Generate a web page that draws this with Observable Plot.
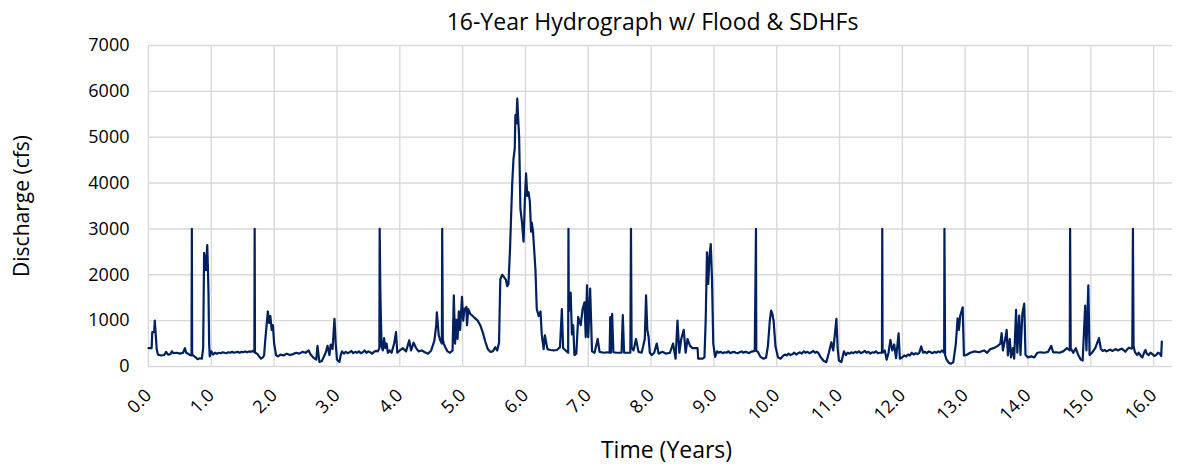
<!DOCTYPE html>
<html><head><meta charset="utf-8">
<script src="https://cdn.jsdelivr.net/npm/d3@7"></script>
<script src="https://cdn.jsdelivr.net/npm/@observablehq/plot@0.6"></script>
<style>html,body{margin:0;padding:0;background:#fff;}</style>
</head><body><div id="chart"></div>
<script>
const chartTitle = "16-Year Hydrograph w/ Flood & SDHFs";
const xTitle = "Time (Years)";
const yTitle = "Discharge (cfs)";
const xTickValues = [0,1,2,3,4,5,6,7,8,9,10,11,12,13,14,15,16];
const yTickValues = [0,1000,2000,3000,4000,5000,6000,7000];

const years = [
0.00,0.05,0.06,0.09,0.10,0.12,0.13,0.15,0.20,0.25,0.28,0.31,0.35,0.37,0.40,0.45,0.50,0.55,0.58,0.60,0.63,0.66,0.685,0.69,0.695,0.70,0.72,0.75,0.78,0.82,0.85,0.87,0.885,0.895,0.905,0.915,0.925,0.935,0.945,0.955,0.965,0.975,
1.00,1.03,1.06,1.09,1.12,1.15,1.18,1.21,1.24,1.27,1.30,1.33,1.36,1.39,1.42,1.45,1.48,1.51,1.54,1.57,1.60,1.63,1.66,
1.685,1.69,1.695,1.70,1.73,1.76,1.79,1.82,1.84,1.86,1.90,1.92,1.94,1.96,1.98,
2.00,2.03,2.06,2.10,2.15,2.20,2.25,2.30,2.35,2.40,2.45,2.50,2.55,2.58,2.62,2.67,2.69,2.72,2.76,2.82,2.85,2.88,2.90,2.93,2.96,2.98,
3.00,3.02,3.04,3.06,
3.08,3.11,3.14,3.17,3.20,3.23,3.26,3.29,3.32,3.35,3.38,3.41,3.44,3.47,3.50,3.53,3.56,3.59,3.62,3.65,
3.675,3.68,3.69,3.70,3.71,3.73,3.75,3.77,3.79,3.81,3.84,3.87,3.91,3.94,3.96,
4.00,4.05,4.10,4.15,4.18,4.22,4.26,4.30,4.35,4.40,4.45,4.50,4.55,4.58,4.59,4.62,4.65,4.67,4.675,4.685,4.70,4.73,4.76,4.80,4.84,4.86,4.88,4.90,4.92,4.94,4.96,4.99,
5.01,5.03,5.06,5.07,5.09,5.12,5.16,5.20,5.24,5.28,5.32,5.36,5.40,5.44,5.48,5.52,5.55,5.58,5.60,5.63,5.66,5.69,5.71,5.73,5.755,5.77,5.79,5.81,5.83,5.84,5.855,5.87,5.885,5.90,5.92,5.945,5.97,5.99,
6.01,6.03,6.05,6.07,6.09,6.10,6.12,6.16,6.18,6.21,6.24,6.26,6.29,6.31,6.35,6.40,6.45,6.50,6.55,6.58,6.60,6.64,6.68,6.685,6.69,6.70,6.72,6.74,6.76,6.78,6.81,6.84,6.88,6.91,6.94,6.96,6.98,
7.00,7.03,7.06,7.10,7.15,7.18,7.25,7.30,7.34,7.35,7.36,7.38,7.40,7.45,7.50,7.53,7.55,7.57,7.62,7.67,7.68,7.69,7.72,7.76,7.80,7.85,7.90,7.92,7.94,7.96,7.98,
8.01,8.05,8.09,8.12,8.18,8.24,8.30,8.35,8.39,8.42,8.45,8.48,8.52,8.55,8.58,8.62,8.66,8.71,8.74,8.75,8.82,8.85,8.87,8.89,8.91,8.93,8.95,8.97,8.99,
9.02,
9.05,9.08,9.11,9.14,9.17,9.20,9.23,9.26,9.29,9.32,9.35,9.38,9.41,9.44,9.47,9.50,9.53,9.56,9.59,9.62,9.65,
9.67,9.675,9.70,9.74,9.79,9.83,9.86,9.89,9.91,9.93,9.95,9.98,
10.02,10.06,
10.10,10.13,10.16,10.19,10.22,10.25,10.28,10.31,10.34,10.37,10.40,10.43,10.46,10.49,10.52,10.55,10.58,10.61,10.64,
10.67,10.70,10.75,10.79,10.83,10.87,10.90,10.95,10.97,10.99,
11.03,11.07,
11.10,11.13,11.16,11.19,11.22,11.25,11.28,11.31,11.34,11.37,11.40,11.43,11.46,11.49,11.52,11.55,11.58,11.61,11.64,
11.675,11.68,11.685,11.72,11.75,11.78,11.81,11.84,11.87,11.90,11.94,11.96,
12.00,12.03,12.06,12.09,12.12,12.15,12.18,12.21,12.24,12.27,12.30,12.33,12.36,12.39,12.42,12.45,12.48,12.51,12.54,12.57,12.60,12.63,
12.665,12.67,12.68,12.70,12.74,12.77,12.81,12.85,12.88,12.90,12.92,12.96,12.98,
13.02,13.08,13.15,13.22,13.30,13.35,13.40,13.45,13.52,13.56,13.58,13.60,13.64,13.66,13.68,13.71,13.73,13.76,13.78,13.81,13.83,13.86,13.88,13.91,13.94,13.96,
14.00,14.05,14.10,14.15,14.20,14.26,14.32,14.37,14.40,14.45,14.50,14.56,14.62,14.665,14.67,14.68,14.72,14.76,14.80,14.84,14.87,14.91,14.93,14.96,14.98,
15.02,15.07,15.13,
15.16,15.19,15.22,15.25,15.28,15.31,15.34,15.37,15.40,15.43,15.46,15.49,15.52,15.55,15.58,15.61,15.64,15.66,
15.67,
15.68,15.70,15.72,15.74,15.76,15.78,15.80,15.82,15.85,15.87,15.89,15.92,15.95,15.98,16.01,16.04,16.07,16.10,16.12,16.13
];

const discharge = [
400,400,750,750,1000,600,380,260,240,250,320,260,270,330,290,300,280,300,400,300,280,250,240,3000,300,250,230,200,160,180,170,400,2480,2300,2400,2100,2400,2650,2200,1600,500,220,
330,260,300,280,300,290,310,300,290,310,300,320,300,310,320,300,320,310,330,310,330,320,340,
310,3000,320,300,280,220,170,200,240,600,1200,950,1100,800,900,
500,250,220,260,240,280,250,270,300,280,320,300,350,260,200,150,450,100,120,300,450,250,480,380,1040,500,
150,120,100,250,
330,280,320,290,310,340,290,320,300,330,290,310,350,300,330,310,280,320,340,330,
400,3000,1690,1000,450,350,620,400,500,300,350,300,500,750,300,
350,400,330,570,350,520,400,330,350,310,280,350,560,900,1180,680,550,500,3000,600,500,400,330,300,350,1550,500,1020,600,1200,800,1520,
1000,1250,1300,900,1250,1150,1100,1050,1000,900,750,550,380,320,330,420,350,520,1900,2000,1950,1890,1750,1800,2570,3200,4000,4530,4750,5480,5300,5840,5400,5000,3440,3150,2720,3590,
4210,3720,3800,3600,2940,3140,2960,2100,1260,1100,1200,700,380,680,380,360,350,360,420,1250,400,350,300,3000,1200,1300,1610,700,900,250,280,1080,900,1250,1400,640,1770,
640,1700,330,300,600,320,300,310,300,1075,300,1150,310,300,300,300,1120,300,300,300,3000,420,350,600,320,300,600,1550,800,650,300,
250,300,500,280,320,280,300,500,170,1000,300,600,800,300,600,450,400,400,400,170,170,200,1040,2490,1800,2400,2670,1900,500,
210,
330,300,320,290,310,300,330,290,310,320,300,290,310,330,300,320,310,290,320,330,340,
3000,340,320,210,170,190,450,1000,1220,1150,1000,440,
200,170,
230,260,240,280,250,270,300,260,290,310,280,330,300,320,290,310,340,300,320,
280,200,120,95,300,530,350,1040,400,130,
100,330,
250,300,280,310,290,320,300,330,290,310,340,300,320,280,310,300,330,290,300,
300,3000,300,350,150,300,580,350,480,180,725,170,
200,240,220,260,240,300,260,290,270,300,440,300,320,290,330,310,290,320,300,330,310,350,
300,3000,250,160,80,60,90,480,1050,800,1100,1290,240,
250,300,330,310,350,300,380,400,450,500,730,350,620,800,240,600,200,400,170,1235,300,1110,250,1150,1370,250,
200,220,200,300,310,300,320,450,310,310,300,330,400,350,3000,400,300,400,250,150,130,1330,350,1770,250,
300,400,620,
380,340,360,330,350,370,340,360,380,350,370,390,360,320,380,410,390,400,
3000,
450,320,280,250,300,270,220,200,310,360,280,250,300,270,230,250,300,280,230,545
];

const data = years.map((t, i) => ({t, q: discharge[i]}));
const grid = {stroke: "#d9d9d9", strokeOpacity: 1, strokeWidth: 1.4};
const font = "'Open Sans', 'Noto Sans', sans-serif";

const chart = Plot.plot({
  width: 1180, height: 466,
  marginLeft: 148, marginRight: 8, marginTop: 45, marginBottom: 100,
  style: {fontFamily: font, fontSize: "18px", color: "#000", background: "#fff", overflow: "visible"},
  x: {domain: [0, 16.3], label: null},
  y: {domain: [0, 7000], label: null},
  marks: [
    Plot.gridX(xTickValues, grid),
    Plot.gridY(yTickValues, grid),
    Plot.axisY(yTickValues, {tickSize: 0, tickPadding: 19, fontSize: 18, tickFormat: d => String(d), label: null}),
    Plot.axisX(xTickValues, {tickSize: 0, tickPadding: 26, tickRotate: -45, fontSize: 18, tickFormat: d => d.toFixed(1), label: null}),
    Plot.line(data, {x: "t", y: "q", stroke: "#002060", strokeWidth: 2.2, strokeLinejoin: "round"}),
    Plot.text([chartTitle], {frameAnchor: "top", dy: -23, dx: -8, fontSize: 23, lineAnchor: "middle", fill: "#000"}),
    Plot.text([xTitle], {frameAnchor: "bottom", dy: 84, dx: 6, fontSize: 23, lineAnchor: "middle", fill: "#000"}),
    Plot.text([yTitle], {frameAnchor: "left", dx: -126, rotate: -90, fontSize: 21, textAnchor: "middle", lineAnchor: "middle", fill: "#000"})
  ]
});
document.getElementById("chart").appendChild(chart);
</script>
</body></html>
